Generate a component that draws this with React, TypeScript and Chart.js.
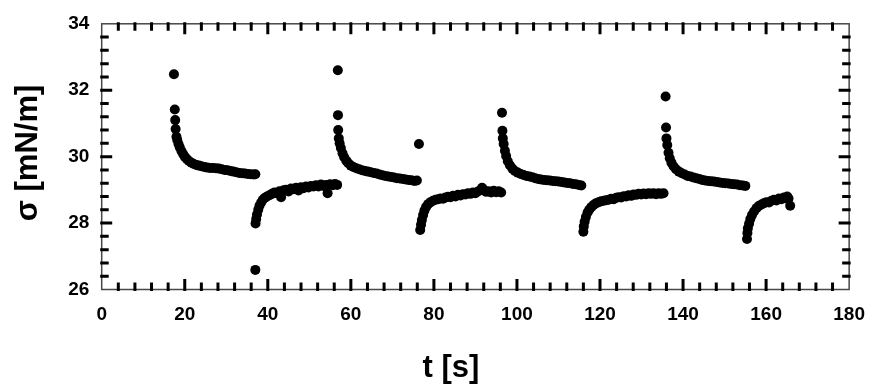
import { useEffect, useRef } from "react";
import { Chart, registerables } from "chart.js";

Chart.register(...registerables);

// ---- data: surface tension sigma [mN/m] vs time t [s], eight relaxation segments ----
const seg1T = [17.4, 17.6, 17.7, 17.8, 18.0, 18.2, 18.5, 18.8, 19.2, 19.6, 20.0, 20.5, 21.0, 21.6, 22.2, 22.8, 23.4, 24.0, 24.7, 25.4, 26.1, 26.8, 27.5, 28.2, 28.9, 29.6, 30.3, 31.0, 31.7, 32.4, 33.1, 33.8, 34.5, 35.2, 35.9, 36.6, 37.0];
const seg1V = [32.48, 31.42, 31.1, 30.83, 30.6, 30.5, 30.38, 30.28, 30.17, 30.08, 30.0, 29.93, 29.87, 29.82, 29.78, 29.75, 29.73, 29.71, 29.69, 29.67, 29.66, 29.66, 29.65, 29.64, 29.62, 29.6, 29.59, 29.57, 29.55, 29.53, 29.51, 29.5, 29.49, 29.48, 29.47, 29.46, 29.47];

const seg2T = [37.0, 37.05, 37.2, 37.4, 37.7, 38.0, 38.4, 38.8, 39.3, 39.8, 40.4, 41.0, 41.6, 42.2, 42.8, 43.2, 43.8, 44.4, 45.0, 45.6, 46.2, 46.8, 47.4, 48.0, 48.6, 49.2, 49.8, 50.4, 51.0, 51.6, 52.2, 52.8, 53.4, 54.0, 54.4, 55.0, 55.6, 56.2, 56.7];
const seg2V = [26.59, 27.99, 28.12, 28.26, 28.4, 28.52, 28.62, 28.7, 28.76, 28.8, 28.84, 28.88, 28.92, 28.9, 28.96, 28.78, 28.99, 29.0, 28.95, 29.04, 29.02, 29.06, 28.98, 29.08, 29.05, 29.1, 29.07, 29.12, 29.1, 29.14, 29.1, 29.16, 29.12, 29.15, 28.9, 29.17, 29.14, 29.18, 29.15];

const seg3T = [56.86, 56.9, 56.95, 57.1, 57.3, 57.6, 58.0, 58.4, 58.9, 59.4, 60.0, 60.6, 61.3, 62.0, 62.7, 63.4, 64.1, 64.8, 65.5, 66.2, 66.9, 67.6, 68.3, 69.0, 69.7, 70.4, 71.1, 71.8, 72.5, 73.2, 73.9, 74.6, 75.3, 75.9];
const seg3V = [32.6, 31.25, 30.8, 30.55, 30.4, 30.26, 30.1, 29.98, 29.88, 29.8, 29.73, 29.69, 29.65, 29.62, 29.59, 29.57, 29.55, 29.53, 29.51, 29.49, 29.46, 29.44, 29.42, 29.4, 29.39, 29.37, 29.35, 29.34, 29.33, 29.31, 29.3, 29.29, 29.27, 29.28];

const seg4T = [76.4, 76.7, 76.9, 77.1, 77.4, 77.7, 78.1, 78.6, 79.2, 79.8, 80.4, 81.0, 81.6, 82.2, 82.8, 83.4, 84.0, 84.6, 85.2, 85.8, 86.4, 87.0, 87.6, 88.2, 88.8, 89.4, 90.0, 90.6, 91.2, 91.6, 92.0, 92.6, 93.2, 93.8, 94.4, 95.0, 95.6, 96.2];
const seg4V = [30.38, 27.79, 27.95, 28.09, 28.24, 28.37, 28.48, 28.57, 28.63, 28.67, 28.7, 28.72, 28.74, 28.73, 28.77, 28.79, 28.78, 28.82, 28.8, 28.85, 28.83, 28.87, 28.86, 28.9, 28.88, 28.92, 28.9, 28.95, 28.99, 29.06, 29.0, 28.94, 28.96, 28.92, 28.97, 28.93, 28.96, 28.92];

const seg5T = [96.4, 96.5, 96.6, 96.8, 97.1, 97.4, 97.8, 98.3, 98.9, 99.5, 100.2, 100.9, 101.6, 102.3, 103.0, 103.7, 104.4, 105.1, 105.8, 106.5, 107.2, 107.9, 108.6, 109.3, 110.0, 110.7, 111.4, 112.1, 112.8, 113.5, 114.2, 114.9, 115.5];
const seg5V = [31.32, 30.78, 30.55, 30.38, 30.18, 30.02, 29.86, 29.74, 29.64, 29.57, 29.52, 29.48, 29.45, 29.42, 29.4, 29.38, 29.35, 29.33, 29.31, 29.3, 29.29, 29.28, 29.27, 29.26, 29.25, 29.24, 29.22, 29.21, 29.2, 29.18, 29.17, 29.15, 29.13];

const seg6T = [116.0, 116.1, 116.3, 116.6, 117.0, 117.4, 117.9, 118.5, 119.1, 119.7, 120.3, 120.9, 121.5, 122.1, 122.7, 123.3, 123.9, 124.5, 125.1, 125.7, 126.3, 126.9, 127.5, 128.1, 128.7, 129.3, 129.9, 130.5, 131.1, 131.7, 132.3, 132.9, 133.5, 134.1, 134.7, 135.3];
const seg6V = [27.74, 27.9, 28.04, 28.18, 28.32, 28.4, 28.48, 28.55, 28.6, 28.63, 28.66, 28.67, 28.69, 28.7, 28.73, 28.72, 28.76, 28.78, 28.77, 28.81, 28.8, 28.84, 28.82, 28.86, 28.85, 28.88, 28.86, 28.89, 28.87, 28.9, 28.88, 28.9, 28.87, 28.9, 28.88, 28.9];

const seg7T = [135.8, 135.9, 136.0, 136.2, 136.5, 136.8, 137.2, 137.7, 138.3, 139.0, 139.7, 140.4, 141.1, 141.8, 142.5, 143.2, 143.9, 144.6, 145.3, 146.0, 146.7, 147.4, 148.1, 148.8, 149.5, 150.2, 150.9, 151.6, 152.3, 153.0, 153.7, 154.4, 155.0];
const seg7V = [31.81, 30.88, 30.55, 30.35, 30.12, 29.95, 29.82, 29.71, 29.62, 29.55, 29.5, 29.46, 29.42, 29.4, 29.37, 29.35, 29.33, 29.3, 29.28, 29.27, 29.26, 29.25, 29.24, 29.22, 29.21, 29.2, 29.19, 29.18, 29.17, 29.16, 29.14, 29.13, 29.12];

const seg8T = [155.4, 155.5, 155.6, 155.9, 156.2, 156.6, 157.1, 157.7, 158.3, 158.9, 159.5, 160.1, 160.7, 161.3, 161.9, 162.5, 163.1, 163.7, 164.3, 164.8, 165.1, 165.4, 165.8];
const seg8V = [27.52, 27.7, 27.84, 27.98, 28.12, 28.24, 28.35, 28.45, 28.52, 28.56, 28.6, 28.63, 28.62, 28.67, 28.7, 28.68, 28.74, 28.72, 28.77, 28.74, 28.8, 28.74, 28.52];

const segTimes = [seg1T, seg2T, seg3T, seg4T, seg5T, seg6T, seg7T, seg8T];
const segValues = [seg1V, seg2V, seg3V, seg4V, seg5V, seg6V, seg7V, seg8V];

const xMin = 0;
const xMax = 180;
const xMajor = 20;
const xMinor = 4;
const yMin = 26;
const yMax = 34;
const yMajor = 2;
const yMinorCount = 5; // minor intervals per major interval

const xTitle = "t [s]";
const yTitle = "σ [mN/m]";

const FONT = "'Liberation Sans', Arial, sans-serif";

const framePlugin = {
  id: "frameTicks",
  beforeDatasetsDraw(chart: any) {
    const { ctx, chartArea: a, scales } = chart;
    const xs = scales.x;
    const ys = scales.y;
    ctx.save();
    ctx.strokeStyle = "#474747";
    ctx.lineWidth = 1.5;
    ctx.strokeRect(a.left, a.top, a.right - a.left, a.bottom - a.top);

    ctx.strokeStyle = "#000";
    ctx.lineWidth = 3;
    ctx.lineCap = "butt";
    const minorLen = 7;
    const majorLen = 10.5;
    const out = 1.5;
    const nx = Math.round((xMax - xMin) / xMinor);
    for (let i = 1; i < nx; i++) {
      const v = xMin + i * xMinor;
      const px = xs.getPixelForValue(v);
      const len = v % xMajor === 0 ? majorLen : minorLen;
      ctx.beginPath();
      ctx.moveTo(px, a.top - out);
      ctx.lineTo(px, a.top + len);
      ctx.moveTo(px, a.bottom + out);
      ctx.lineTo(px, a.bottom - len);
      ctx.stroke();
    }
    const ny = Math.round(((yMax - yMin) / yMajor) * yMinorCount);
    for (let i = 1; i < ny; i++) {
      const v = yMin + (i * yMajor) / yMinorCount;
      const py = ys.getPixelForValue(v);
      const len = i % yMinorCount === 0 ? majorLen : minorLen;
      ctx.beginPath();
      ctx.moveTo(a.left - out, py);
      ctx.lineTo(a.left + len, py);
      ctx.moveTo(a.right + out, py);
      ctx.lineTo(a.right - len, py);
      ctx.stroke();
    }
    ctx.restore();
  },
  afterDraw(chart: any) {
    const { ctx } = chart;
    ctx.save();
    ctx.fillStyle = "#000";
    ctx.font = `bold 31px ${FONT}`;
    ctx.textAlign = "center";
    ctx.textBaseline = "middle";
    ctx.fillText(xTitle, 451, 368);
    ctx.translate(28, 153);
    ctx.rotate(-Math.PI / 2);
    ctx.fillText(yTitle, 0, 0);
    ctx.restore();
  },
};

export default function App() {
  const ref = useRef<HTMLCanvasElement | null>(null);

  useEffect(() => {
    if (!ref.current) return;
    const points: { x: number; y: number }[] = [];
    segTimes.forEach((ts, s) => {
      ts.forEach((t, i) => points.push({ x: t, y: segValues[s][i] }));
    });

    const chart = new Chart(ref.current, {
      type: "scatter",
      data: {
        datasets: [
          {
            data: points,
            backgroundColor: "#000",
            borderColor: "#000",
            pointRadius: 5,
            pointBorderWidth: 0,
            pointHoverRadius: 5,
          },
        ],
      },
      options: {
        responsive: false,
        animation: false,
        devicePixelRatio: 1,
        layout: { padding: { left: 0, top: 17.3, right: 20.7, bottom: 0 } },
        plugins: {
          legend: { display: false },
          tooltip: { enabled: false },
        },
        scales: {
          x: {
            type: "linear",
            min: xMin,
            max: xMax,
            grid: { display: false, drawTicks: false },
            border: { display: false },
            ticks: {
              stepSize: xMajor,
              padding: 14,
              color: "#000",
              font: { family: FONT, size: 19, weight: "bold" },
              maxRotation: 0,
            },
            afterFit: (s: any) => {
              s.height = 387 - 289.5;
            },
          },
          y: {
            type: "linear",
            min: yMin,
            max: yMax,
            grid: { display: false, drawTicks: false },
            border: { display: false },
            ticks: {
              stepSize: yMajor,
              padding: 12.4,
              color: "#000",
              font: { family: FONT, size: 19, weight: "bold" },
            },
            afterFit: (s: any) => {
              s.width = 101.7;
            },
          },
        },
      },
      plugins: [framePlugin],
    });
    return () => chart.destroy();
  }, []);

  return (
    <div style={{ position: "absolute", left: 0, top: 0, width: 879, height: 387, background: "#fff" }}>
      <canvas ref={ref} width={879} height={387} />
    </div>
  );
}
